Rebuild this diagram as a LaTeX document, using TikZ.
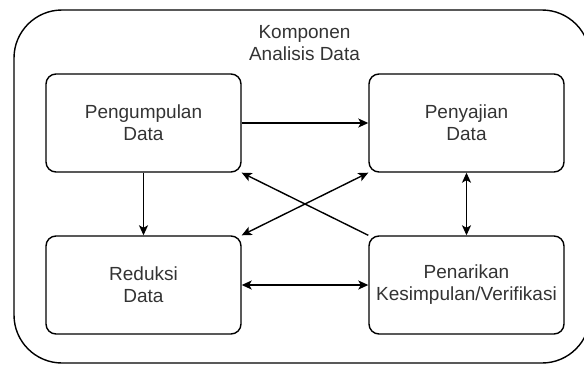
\documentclass[tikz,border=0pt]{standalone}
\usepackage{fontspec}
\setmainfont{Liberation Sans}
\usetikzlibrary{arrows.meta}
\definecolor{txt}{HTML}{333333}
\tikzset{
  box/.style={draw=black, line width=1.4pt, rounded corners=10pt, minimum width=195pt, minimum height=98pt, inner sep=0pt, align=center, font=\fontsize{19pt}{22pt}\selectfont, text=txt},
  conn/.style={line width=1.4pt, draw=black},
  tip/.tip={Stealth[length=10pt, width=9pt, inset=2.5pt]},
}
\begin{document}
\begin{tikzpicture}[x=1pt, y=-1pt]
\useasboundingbox (0,0) rectangle (584,365);
\clip (0,0) rectangle (584,365);
\node[draw=black, line width=1.4pt, rounded corners=48pt, minimum width=576pt, minimum height=353pt, inner sep=0pt] (outer) at (302,186.5) {};
\node[align=center, font=\fontsize{19pt}{22pt}\selectfont, text=txt, inner sep=0pt] (title) at (304.5,43) {Komponen\\Analisis Data};
\node[box] (a) at (143.5,123) {Pengumpulan\\Data};
\node[box] (b) at (466.5,123) {Penyajian\\Data};
\node[box] (c) at (143.5,285) {Reduksi\\Data};
\node[box] (d) at (466.5,285) {Penarikan\\Kesimpulan/Verifikasi};
\draw[conn, -tip] (a.east) -- (b.west);
\draw[conn, -tip] (a.south) -- (c.north);
\draw[conn, tip-tip] (b.south) -- (d.north);
\draw[conn, tip-tip] (c.east) -- (d.west);
\draw[conn, -tip] (d.north west) -- (a.south east);
\draw[conn, tip-tip] (c.north east) -- (b.south west);
\end{tikzpicture}
\end{document}
